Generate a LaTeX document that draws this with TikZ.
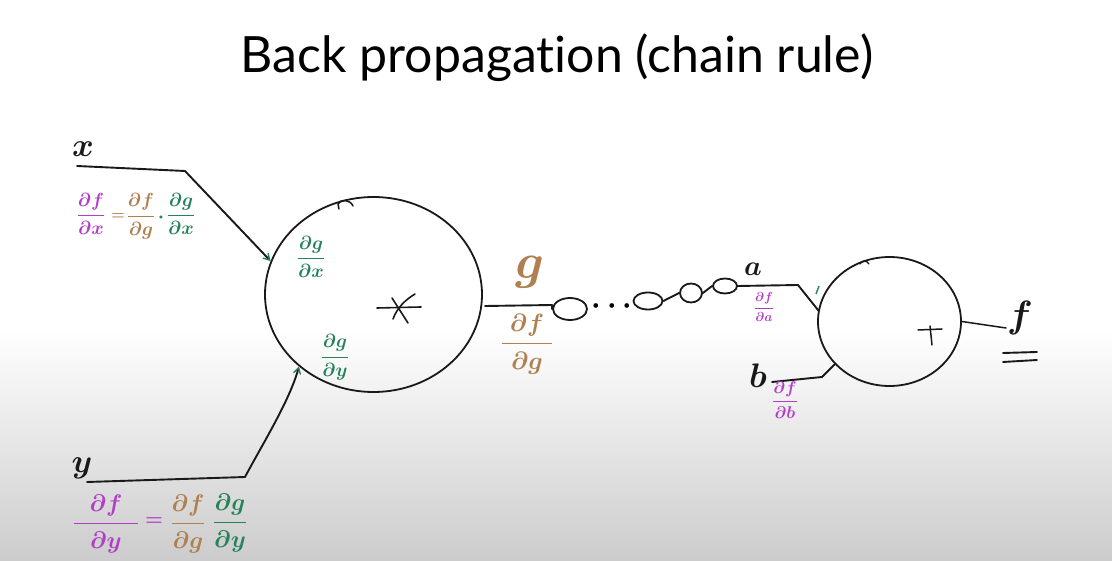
\documentclass[tikz,border=0pt]{standalone}
\usepackage{fontspec}
\setmainfont{Lato}[Ligatures={NoCommon}]
\usetikzlibrary{shapes.geometric,arrows.meta}
\definecolor{purp}{RGB}{178,62,200}
\definecolor{brn}{RGB}{176,128,80}
\definecolor{grn}{RGB}{38,130,90}
\definecolor{ink}{RGB}{25,25,25}
\newcommand{\sz}[2]{\scalebox{#1}{\boldmath$\displaystyle #2$}}
\begin{document}
\begin{tikzpicture}[x=1pt,y=-1pt,
  wire/.style={draw=ink,line width=1.9pt,line join=round,line cap=round},
  gate/.style={ellipse,draw=ink,line width=1.8pt,inner sep=0pt},
  loopnode/.style={ellipse,draw=ink,line width=1.8pt,inner sep=0pt},
  lbl/.style={text=ink,inner sep=0pt},
  tag/.style={inner sep=0pt},
  tip/.style={-{Straight Barb[length=6pt,width=7pt,color=grn,line width=1.4pt]}}]
\useasboundingbox (0,0) rectangle (1112,561);
\fill[white] (0,0) rectangle (1112,561);
\shade[top color=white,bottom color=black!20] (0,330) rectangle (1112,561);

% title
\node (title) at (557,58) {\fontsize{50}{58}\selectfont Back propagation (chain rule)};

% gates
\node[gate,minimum width=217pt,minimum height=195pt] (big) at (373.5,294.5) {};
\node[gate,minimum width=143pt,minimum height=129pt] (small) at (889.5,321.5) {};

% marks on gates
\draw[wire,line width=1.5pt] (353,206) .. controls (350,199) and (340,199) .. (338,204) -- (339,209);
\draw[wire,line width=1.3pt] (869,264) .. controls (867,260) and (861,260) .. (860,264);
% asterisk
\draw[wire,line width=1.6pt] (377,308) -- (421,307);
\draw[wire,line width=1.6pt] (392,298) -- (408,323);
\draw[wire,line width=1.6pt] (415,294) .. controls (405,300) and (397,308) .. (393,319);
% plus
\draw[wire,line width=1.5pt] (918,330) -- (942,329);
\draw[wire,line width=1.5pt] (930,326) -- (932,345);

% inputs
\node[lbl] (xl) at (83,149) {\sz{3.3}{x}};
\node[lbl] (yl) at (82,468) {\sz{3.3}{y}};
\coordinate (xs) at (77,166);
\coordinate (xb) at (185,171);
\coordinate (ys) at (87,482);
\coordinate (yb) at (245,477);
\draw[wire,tip] (xs) -- (xb) -- (big.162);
\draw[wire,tip] (ys) -- (yb) .. controls (262,445) and (290,400) .. (big.224);

% chain
\coordinate (o1) at (485,306);
\coordinate (o2) at (552,305);
\draw[wire] (o1) -- (o2);
\node[loopnode,minimum width=34pt,minimum height=22pt] (l1) at (570,309) {};
\draw[wire] (o2) -- (l1.west);
\node[tag] (dots) at (612,306) {\sz{3}{\cdots}};
\node[loopnode,minimum width=29pt,minimum height=17pt] (l2) at (648,301) {};
\node[loopnode,minimum width=22pt,minimum height=19pt] (l3) at (691,293) {};
\node[loopnode,minimum width=24pt,minimum height=15pt] (l4) at (725,286) {};
\draw[wire] (l2.east) -- (l3.west);
\draw[wire] (l3.east) -- (l4.west);
\coordinate (ab) at (798,285);
\draw[wire] (l4.east) -- (ab) -- (small.171);
\draw[grn,line width=1.4pt] (816,294) -- (819,286);

% b input
\node[lbl] (bl) at (758,376) {\sz{3.4}{b}};
\coordinate (bs) at (772,382);
\coordinate (bb) at (822,377);
\draw[wire] (bs) -- (bb) -- (small.218);

% output
\coordinate (fo) at (1006,328);
\draw[wire,line width=1.5pt] (small.east) -- (fo);
\node[lbl] (fl) at (1020,318) {\sz{3.8}{f}};
\draw[wire] (1003,353) -- (1037,352);
\draw[wire] (1003,362) -- (1037,360);

% labels on chain
\node[tag,text=brn] (gl) at (530,272) {\sz{5}{g}};
\node[tag,text=brn] (dfdg) at (527,344) {\sz{2.5}{\frac{\;\partial f\;}{\;\partial g\;}}};
\node[lbl] (al) at (753,269) {\sz{2.8}{a}};
\node[tag,text=purp] (dfda) at (764,307) {\sz{1.3}{\frac{\partial f}{\partial a}}};
\node[tag,text=purp] (dfdb) at (785,400) {\sz{1.7}{\frac{\partial f}{\partial b}}};

% local gradients
\node[tag,text=grn] (dgdx) at (311,257) {\sz{1.9}{\frac{\partial g}{\partial x}}};
\node[tag,text=grn] (dgdy) at (335,357) {\sz{1.9}{\frac{\partial g}{\partial y}}};

% top chain rule
\node[tag,text=purp] (tx1) at (91,214) {\sz{1.9}{\frac{\partial f}{\partial x}}};
\node[tag,text=brn] (teq) at (118,217) {\sz{1.5}{=}};
\node[tag,text=brn] (tx2) at (141,216) {\sz{1.9}{\frac{\partial f}{\partial g}}};
\node[tag,text=grn] (tdot) at (161,218) {\sz{2}{\cdot}};
\node[tag,text=grn] (tx3) at (181,214) {\sz{1.9}{\frac{\partial g}{\partial x}}};

% bottom chain rule
\node[tag,text=purp] (by1) at (106,524) {\sz{2.4}{\frac{\;\;\partial f\;\;}{\partial y}}};
\node[tag,text=purp] (beq) at (154,522) {\sz{2}{=}};
\node[tag,text=brn] (by2) at (188,524) {\sz{2.4}{\frac{\partial f}{\partial g}}};
\node[tag,text=grn] (by3) at (230,523) {\sz{2.4}{\frac{\partial g}{\partial y}}};
\end{tikzpicture}
\end{document}
